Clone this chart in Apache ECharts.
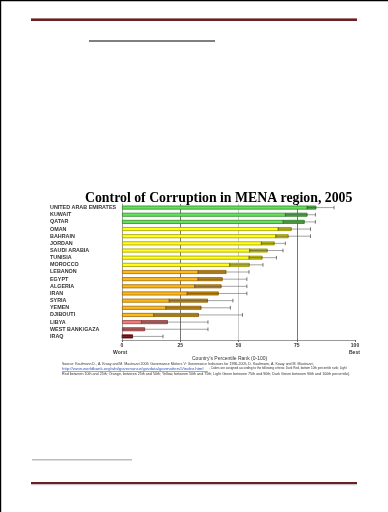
<!DOCTYPE html>
<html>
<head>
<meta charset="utf-8">
<script src="https://cdn.jsdelivr.net/npm/echarts@6/dist/echarts.min.js"></script>
<style>
html,body{margin:0;padding:0;background:#fff;}
#c{width:388px;height:512px;}
</style>
</head>
<body>
<div id="c"></div>
<script>
const countries = ["UNITED ARAB EMIRATES","KUWAIT","QATAR","OMAN","BAHRAIN","JORDAN","SAUDI ARABIA","TUNISIA","MOROCCO","LEBANON","EGYPT","ALGERIA","IRAN","SYRIA","YEMEN","DJIBOUTI","LIBYA","WEST BANK/GAZA","IRAQ"];
const rank  = [83.4,79.6,78.4,72.8,71.5,65.5,62.5,60.3,54.8,44.8,43.2,42.7,41.5,36.9,34.1,33.0,19.7,9.9,4.7];
const lower = [79.4,70.1,69.1,67.0,66.0,59.8,54.8,54.5,46.2,32.6,32.6,31.2,27.9,20.2,18.8,13.6,8.3,0.4,0.0];
const upper = [91.0,83.0,83.0,80.9,80.9,70.1,69.1,66.3,60.5,54.5,53.6,53.6,53.6,47.6,46.5,51.7,36.9,36.9,17.6];
const barColors = ["#66e05a","#66e05a","#66e05a","#ffff1a","#ffff1a","#ffff1a","#ffff1a","#ffff1a","#ffff1a","#ffb81a","#ffb81a","#ffb81a","#ffb81a","#ffb81a","#ffb81a","#ffb81a","#ef7a7a","#ef7a7a","#c80000"];
const borderColors = ["#2f8a2a","#2f8a2a","#2f8a2a","#a09a00","#a09a00","#a09a00","#a09a00","#a09a00","#a09a00","#a06a00","#a06a00","#a06a00","#a06a00","#a06a00","#a06a00","#a06a00","#a04545","#a04545","#700000"];
const xTicks = [0,25,50,75,100];

const chart = echarts.init(document.getElementById('c'), null, {renderer:'canvas'});

const barData = rank.map((v,i)=>({value:v,itemStyle:{color:barColors[i],borderColor:borderColors[i],borderWidth:0.8}}));
const errData = rank.map((v,i)=>[i,lower[i],upper[i],v]);

const src = {fontFamily:'Liberation Sans',fill:'#333'};

const option = {
  backgroundColor:'#fff',
  animation:false,
  title:{
    text:'Control of Corruption in MENA region, 2005',
    left:80, top:186,
    textStyle:{fontFamily:'Liberation Serif',fontWeight:'bold',fontSize:13.8,color:'#000'}
  },
  grid:{left:122,right:33,top:204,bottom:172},
  xAxis:{
    type:'value',min:0,max:100,interval:25,
    axisLine:{show:true,lineStyle:{color:'#999',width:1}},
    axisTick:{show:true,length:2,lineStyle:{color:'#666'}},
    axisLabel:{fontSize:5,fontFamily:'Liberation Sans',fontWeight:'bold',color:'#333',margin:3,
      formatter:v=>xTicks.indexOf(v)>=0?String(v):''},
    splitLine:{show:true,lineStyle:{color:['#fff','#777','#ccc','#777','#fff'],width:1}}
  },
  yAxis:{
    type:'category',data:countries,inverse:true,
    axisLine:{show:true,lineStyle:{color:'#999'}},
    axisTick:{show:false},
    axisLabel:{align:'left',margin:72,fontSize:5.4,fontFamily:'Liberation Sans',fontWeight:'bold',color:'#333'}
  },
  series:[
    {type:'bar',data:barData,barWidth:4,z:2},
    {type:'custom',z:3,data:errData,
      renderItem:function(params,api){
        const i=api.value(0), lo=api.value(1), hi=api.value(2), v=api.value(3);
        const pLo=api.coord([lo,i]), pHi=api.coord([hi,i]), pV=api.coord([Math.min(v,hi),i]);
        const y=pLo[1];
        const children=[
          {type:'line',shape:{x1:pLo[0],y1:y,x2:pHi[0],y2:y},style:{stroke:'rgba(90,90,90,0.7)',lineWidth:0.8}},
          {type:'line',shape:{x1:pHi[0],y1:y-1.8,x2:pHi[0],y2:y+1.8},style:{stroke:'#555',lineWidth:0.8}},
          {type:'line',shape:{x1:pLo[0],y1:y-1.8,x2:pLo[0],y2:y+1.8},style:{stroke:'#555',lineWidth:0.8}}
        ];
        if(pV[0]>pLo[0]){
          children.push({type:'rect',shape:{x:pLo[0],y:y-1.5,width:pV[0]-pLo[0],height:3},style:{fill:'rgba(0,0,0,0.22)'}});
        }
        return {type:'group',children:children};
      }
    }
  ],
  graphic:[
    {type:'rect',shape:{x:0,y:0,width:388,height:1.2},style:{fill:'#000'}},
    {type:'rect',shape:{x:0,y:0,width:1.2,height:512},style:{fill:'#000'}},
    {type:'rect',shape:{x:31,y:18,width:326,height:1},style:{fill:'#a87a7a'}},
    {type:'rect',shape:{x:31,y:19,width:326,height:2},style:{fill:'#6b1f24'}},
    {type:'rect',shape:{x:89,y:40.5,width:126,height:1},style:{fill:'#000'}},
    {type:'rect',shape:{x:32,y:459,width:100,height:1.5},style:{fill:'#bdbdbd'}},
    {type:'rect',shape:{x:31,y:482,width:326,height:2.2},style:{fill:'#6b1f24'}},
    {type:'rect',shape:{x:31,y:484.2,width:326,height:1},style:{fill:'#c8c8c8'}},
    {type:'text',left:113,top:350,style:{text:'Worst',fontSize:5,fontFamily:'Liberation Sans',fontWeight:'bold',fill:'#333'}},
    {type:'text',left:349,top:350,style:{text:'Best',fontSize:5,fontFamily:'Liberation Sans',fontWeight:'bold',fill:'#333'}},
    {type:'text',left:192,top:356,style:{text:"Country's Percentile Rank (0-100)",fontSize:5,fontFamily:'Liberation Sans',fill:'#333'}},
    {type:'text',left:62,top:362,style:Object.assign({text:'Source: Kaufmann D., A. Kraay and M. Mastruzzi 2006: Governance Matters V: Governance Indicators for 1996-2005, D. Kaufmann, A. Kraay and M. Mastruzzi,',fontSize:3.55},src)},
    {type:'text',left:62,top:367,style:{text:'http://www.worldbank.org/wbi/governance/govdata/govmatters5/index.html',fontSize:4.3,fontFamily:'Liberation Sans',fill:'#3355bb'}},
    {type:'rect',shape:{x:62,y:371.5,width:146,height:0.5},style:{fill:'#3355bb'}},
    {type:'text',left:209,top:367,style:Object.assign({text:'. Colors are assigned according to the following criteria: Dark Red, bottom 10th percentile rank; Light',fontSize:3.1},src)},
    {type:'text',left:62,top:372,style:Object.assign({text:'Red between 10th and 25th; Orange, between 25th and 50th; Yellow, between 50th and 75th; Light Green between 75th and 90th; Dark Green between 90th and 100th percentile).',fontSize:3.65},src)}
  ]
};
chart.setOption(option);
</script>
</body>
</html>
